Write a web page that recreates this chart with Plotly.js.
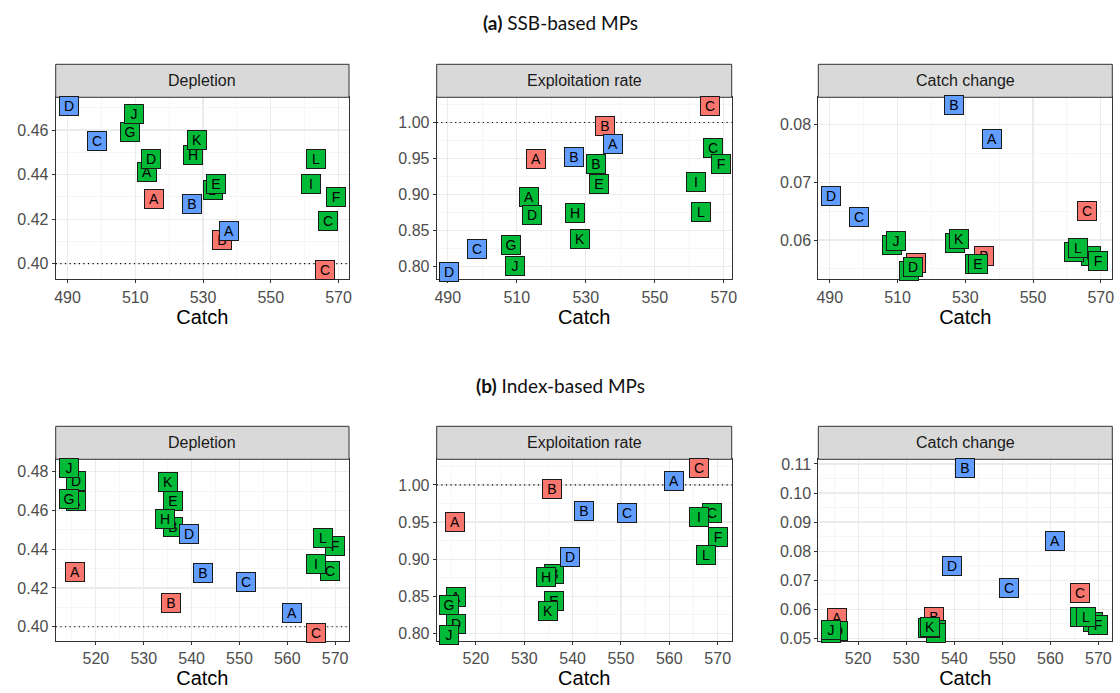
<!DOCTYPE html>
<html><head><meta charset="utf-8">
<script src="https://cdn.plot.ly/plotly-3.0.1.min.js"></script>
<style>body{margin:0;background:#fff}#chart{width:1120px;height:693px}</style>
</head><body><div id="chart"></div>
<script>
// ---- data ----
const redLabels = ['A','B','C'];
const blueLabels = ['A','B','C','D'];
const greenLabels = ['A','B','C','D','E','F','G','H','I','J','K','L'];
const panelTitles = ['Depletion','Exploitation rate','Catch change'];
const rowTitles = ['<b>(a)</b> SSB-based MPs','<b>(b)</b> Index-based MPs'];
const refLines = [0.40, 1.00, null];

// (a) SSB-based
const ssbCatchRed = [515.5, 535.5, 566];
const ssbCatchBlue = [537.8, 526.7, 498.6, 490.4];
const ssbCatchGreen = [513.5, 533, 567, 514.5, 533.8, 569.3, 508.4, 527, 562, 509.5, 528.2, 563.3];
const ssbDeplRed = [0.429, 0.4105, 0.397];
const ssbDeplBlue = [0.4147, 0.4267, 0.455, 0.471];
const ssbDeplGreen = [0.441, 0.433, 0.419, 0.447, 0.436, 0.430, 0.459, 0.449, 0.436, 0.467, 0.4555, 0.447];
const ssbExplRed = [0.950, 0.995, 1.023];
const ssbExplBlue = [0.970, 0.952, 0.825, 0.793];
const ssbExplGreen = [0.897, 0.943, 0.964, 0.872, 0.914, 0.942, 0.830, 0.875, 0.918, 0.801, 0.839, 0.876];
const ssbCcRed = [0.056, 0.0572, 0.0651];
const ssbCcBlue = [0.0774, 0.0833, 0.064, 0.0677];
const ssbCcGreen = [0.0546, 0.0558, 0.0572, 0.0553, 0.0559, 0.0563, 0.0592, 0.0595, 0.058, 0.0598, 0.0602, 0.0586];

// (b) Index-based
const idxCatchRed = [515.6, 535.8, 566.1];
const idxCatchBlue = [561.0, 542.3, 551.3, 539.5];
const idxCatchGreen = [515.9, 536.1, 568.9, 515.9, 536.2, 570.0, 514.4, 534.5, 566.1, 514.4, 535.0, 567.5];
const idxDeplRed = [0.4284, 0.412, 0.3966];
const idxDeplBlue = [0.4072, 0.4275, 0.4232, 0.4478];
const idxDeplGreen = [0.465, 0.4513, 0.4289, 0.4754, 0.465, 0.4416, 0.466, 0.4554, 0.4323, 0.4817, 0.4745, 0.4456];
const idxExplRed = [0.9497, 0.9946, 1.0225];
const idxExplBlue = [1.0058, 0.9654, 0.9618, 0.9034];
const idxExplGreen = [0.849, 0.880, 0.962, 0.8126, 0.843, 0.930, 0.838, 0.8764, 0.957, 0.798, 0.8306, 0.9056];
const idxCcRed = [0.057, 0.0575, 0.0655];
const idxCcBlue = [0.0836, 0.1085, 0.0672, 0.075];
const idxCcGreen = [0.0525, 0.053, 0.0555, 0.0525, 0.052, 0.0546, 0.052, 0.0535, 0.0575, 0.053, 0.0538, 0.0572];

// ---- styling / layout ----
const colRed = '#F8766D', colGreen = '#00BA38', colBlue = '#619CFF';
const W = 1120, H = 693;
const xDomPx = [[55.7, 349], [436.7, 731.7], [818.3, 1112.3]];
const yDomPx = [[97.3, 279.3], [459.3, 640.7]];
const stripH = 33;
const titleY = [22, 385];

const rows = [
  {catchR: ssbCatchRed, catchB: ssbCatchBlue, catchG: ssbCatchGreen,
   ys: [[ssbDeplRed, ssbDeplBlue, ssbDeplGreen],[ssbExplRed, ssbExplBlue, ssbExplGreen],[ssbCcRed, ssbCcBlue, ssbCcGreen]],
   xr: [[486.5, 573.1],[486.8, 572.3],[486.6, 573.4]],
   yr: [[0.393, 0.4747],[0.7824, 1.035],[0.0532, 0.0847]],
   xtick: {tick0: 490, dtick: 20, minor: 10},
   ytick: [{d: 0.02, m: 0.01},{d: 0.05, m: 0.025},{d: 0.01, m: 0.005}]},
  {catchR: idxCatchRed, catchB: idxCatchBlue, catchG: idxCatchGreen,
   ys: [[idxDeplRed, idxDeplBlue, idxDeplGreen],[idxExplRed, idxExplBlue, idxExplGreen],[idxCcRed, idxCcBlue, idxCcGreen]],
   xr: [[511.6, 572.9],[511.9, 572.9],[511.7, 572.9]],
   yr: [[0.3928, 0.4864],[0.790, 1.0346],[0.0492, 0.1116]],
   xtick: {tick0: 520, dtick: 10, minor: 5},
   ytick: [{d: 0.02, m: 0.01},{d: 0.05, m: 0.025},{d: 0.01, m: 0.005}]}
];

const data = [];
const layout = {
  width: W, height: H, margin: {l: 0, r: 0, t: 0, b: 0},
  paper_bgcolor: '#fff', plot_bgcolor: '#fff', showlegend: false,
  font: {family: 'Liberation Sans, Arial, sans-serif', color: '#4D4D4D'},
  annotations: [], shapes: []
};

let k = 0;
rows.forEach((row, ri) => {
  layout.annotations.push({
    xref: 'paper', yref: 'paper', x: 0.5, y: 1 - titleY[ri] / H, xanchor: 'center', yanchor: 'middle',
    text: rowTitles[ri], showarrow: false, font: {family: 'Lato, Open Sans, sans-serif', size: 19, color: '#111'}
  });
  for (let pi = 0; pi < 3; pi++) {
    k++;
    const xa = 'xaxis' + (k === 1 ? '' : k), ya = 'yaxis' + (k === 1 ? '' : k);
    const xid = 'x' + (k === 1 ? '' : k), yid = 'y' + (k === 1 ? '' : k);
    const xd = [xDomPx[pi][0] / W, xDomPx[pi][1] / W];
    const yd = [1 - yDomPx[ri][1] / H, 1 - yDomPx[ri][0] / H];
    layout[xa] = {
      domain: xd, anchor: yid, range: row.xr[pi], tick0: row.xtick.tick0, dtick: row.xtick.dtick,
      showgrid: true, gridcolor: '#EBEBEB', gridwidth: 1.2, zeroline: false,
      minor: {showgrid: true, gridcolor: '#F2F2F2', gridwidth: 0.7, dtick: row.xtick.minor, tick0: row.xtick.tick0},
      showline: true, mirror: true, linecolor: '#333333', linewidth: 1,
      ticks: 'outside', ticklen: 3, tickcolor: '#333333', tickwidth: 1,
      tickfont: {size: 16, color: '#4D4D4D'},
      title: {text: 'Catch', font: {size: 20, color: '#000'}, standoff: 2}
    };
    layout[ya] = {
      domain: yd, anchor: xid, range: row.yr[pi], tick0: 0, dtick: row.ytick[pi].d, tickformat: '.2f',
      showgrid: true, gridcolor: '#EBEBEB', gridwidth: 1.2, zeroline: false,
      minor: {showgrid: true, gridcolor: '#F2F2F2', gridwidth: 0.7, dtick: row.ytick[pi].m, tick0: 0},
      showline: true, mirror: true, linecolor: '#333333', linewidth: 1,
      ticks: 'outside', ticklen: 3, tickcolor: '#333333', tickwidth: 1,
      tickfont: {size: 16, color: '#4D4D4D'}
    };
    // strip
    layout.shapes.push({type: 'rect', xref: 'paper', yref: 'paper', x0: xd[0], x1: xd[1],
      y0: yd[1], y1: yd[1] + stripH / H, fillcolor: '#D9D9D9', line: {color: '#333333', width: 1}, layer: 'above'});
    layout.annotations.push({xref: 'paper', yref: 'paper', x: (xd[0] + xd[1]) / 2, y: yd[1] + stripH / 2 / H,
      xanchor: 'center', yanchor: 'middle', text: panelTitles[pi], showarrow: false,
      font: {size: 16, color: '#1A1A1A'}});
    // reference line
    if (refLines[pi] !== null) {
      layout.shapes.push({type: 'line', xref: xid + ' domain', yref: yid, x0: 0, x1: 1,
        y0: refLines[pi], y1: refLines[pi], line: {color: '#000', width: 1.2, dash: '1.2px,3.4px'}, layer: 'above'});
    }
    const ys = row.ys[pi];
    const groups = [
      {cx: row.catchR, cy: ys[0], labs: redLabels, col: colRed},
      {cx: row.catchG, cy: ys[2], labs: greenLabels, col: colGreen},
      {cx: row.catchB, cy: ys[1], labs: blueLabels, col: colBlue}
    ];
    groups.forEach(g => {
      data.push({type: 'scatter', mode: 'markers', x: g.cx, y: g.cy, xaxis: xid, yaxis: yid,
        marker: {opacity: 0, size: 1}, hoverinfo: 'skip'});
      g.labs.forEach((lab, i) => {
        layout.annotations.push({xref: xid, yref: yid, x: g.cx[i], y: g.cy[i], text: lab, showarrow: false,
          xanchor: 'center', yanchor: 'middle', bgcolor: g.col, bordercolor: '#1a1a1a', borderwidth: 1,
          borderpad: 2, width: 14, height: 14, font: {size: 14, color: '#000'}});
      });
    });
  }
});

Plotly.newPlot('chart', data, layout, {staticPlot: true});
</script></body></html>
